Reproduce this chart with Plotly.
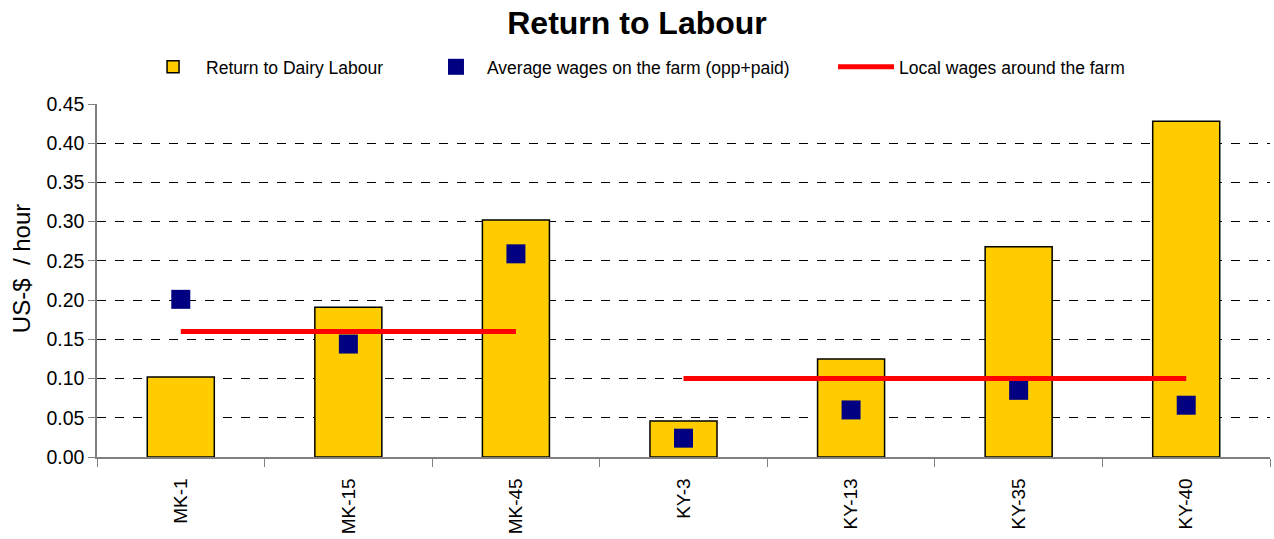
import plotly.graph_objects as go

farms = ["MK-1", "MK-15", "MK-45", "KY-3", "KY-13", "KY-35", "KY-40"]
region = ["MK", "MK", "MK", "KY", "KY", "KY", "KY"]
return_dairy_labour = [0.102, 0.191, 0.302, 0.046, 0.125, 0.268, 0.428]
avg_wages_farm = [0.201, 0.144, 0.259, 0.024, 0.060, 0.085, 0.066]
local_wages = [0.16, 0.16, 0.16, 0.10, 0.10, 0.10, 0.10]

FONT = "Liberation Sans, Arial, sans-serif"

fig = go.Figure()

fig.add_trace(go.Bar(
    x=farms, y=return_dairy_labour, name="Return to Dairy Labour",
    marker=dict(color="#FFCC00", line=dict(color="black", width=1.5)),
    width=0.4, legend="legend", showlegend=True,
))
fig.add_trace(go.Scatter(
    x=farms, y=avg_wages_farm, mode="markers",
    name="Average wages on the farm (opp+paid)",
    marker=dict(symbol="square", size=19, color="#000080"),
    legend="legend2", showlegend=True,
))
for i, reg in enumerate(["MK", "KY"]):
    xs = [f for f, r in zip(farms, region) if r == reg]
    ys = [v for v, r in zip(local_wages, region) if r == reg]
    fig.add_trace(go.Scatter(
        x=xs, y=ys, mode="lines", name="Local wages around the farm",
        line=dict(color="#FF0000", width=5), legendgroup="local",
        showlegend=(i == 0), legend="legend3",
    ))

legend_style = dict(orientation="h", yanchor="middle", y=1.105, xanchor="left",
                    font=dict(family=FONT, size=17.5, color="black"),
                    bgcolor="rgba(0,0,0,0)")

fig.update_layout(
    width=1274, height=539,
    showlegend=True,
    plot_bgcolor="white", paper_bgcolor="white",
    margin=dict(l=97, r=4, t=104, b=82),
    title=dict(text="<b>Return to Labour</b>", x=0.5, xanchor="center",
               y=0.958, yanchor="middle",
               font=dict(family=FONT, size=32, color="black")),
    font=dict(family=FONT, color="black"),
    legend=dict(legend_style, x=0.0367, itemwidth=56),
    legend2=dict(legend_style, x=0.2796, itemwidth=52),
    legend3=dict(legend_style, x=0.6275, itemwidth=56),
    annotations=[dict(
        text="US-$  / hour", textangle=-90, showarrow=False,
        xref="paper", yref="paper", x=-0.0648, y=0.535,
        xanchor="center", yanchor="middle",
        font=dict(family=FONT, size=24, color="black"),
    )],
)

fig.update_xaxes(
    type="category", tickangle=-90, tickson="boundaries",
    ticks="outside", ticklen=8, tickcolor="#808080",
    showline=True, linecolor="#808080", linewidth=1.5,
    tickfont=dict(family=FONT, size=19, color="black"),
    ticklabelstandoff=12,
    showgrid=False,
)
fig.update_yaxes(
    range=[0, 0.45], dtick=0.05, tickformat=".2f",
    ticks="outside", ticklen=7, tickcolor="#808080",
    showline=True, linecolor="#808080", linewidth=1.5,
    showgrid=True, gridcolor="black", griddash="dash", gridwidth=1,
    tickfont=dict(family=FONT, size=19.5, color="black"),
    zeroline=False,
)

fig.write_html("out.html", config={"displayModeBar": False},
               post_script="document.body.style.margin='0px';")
